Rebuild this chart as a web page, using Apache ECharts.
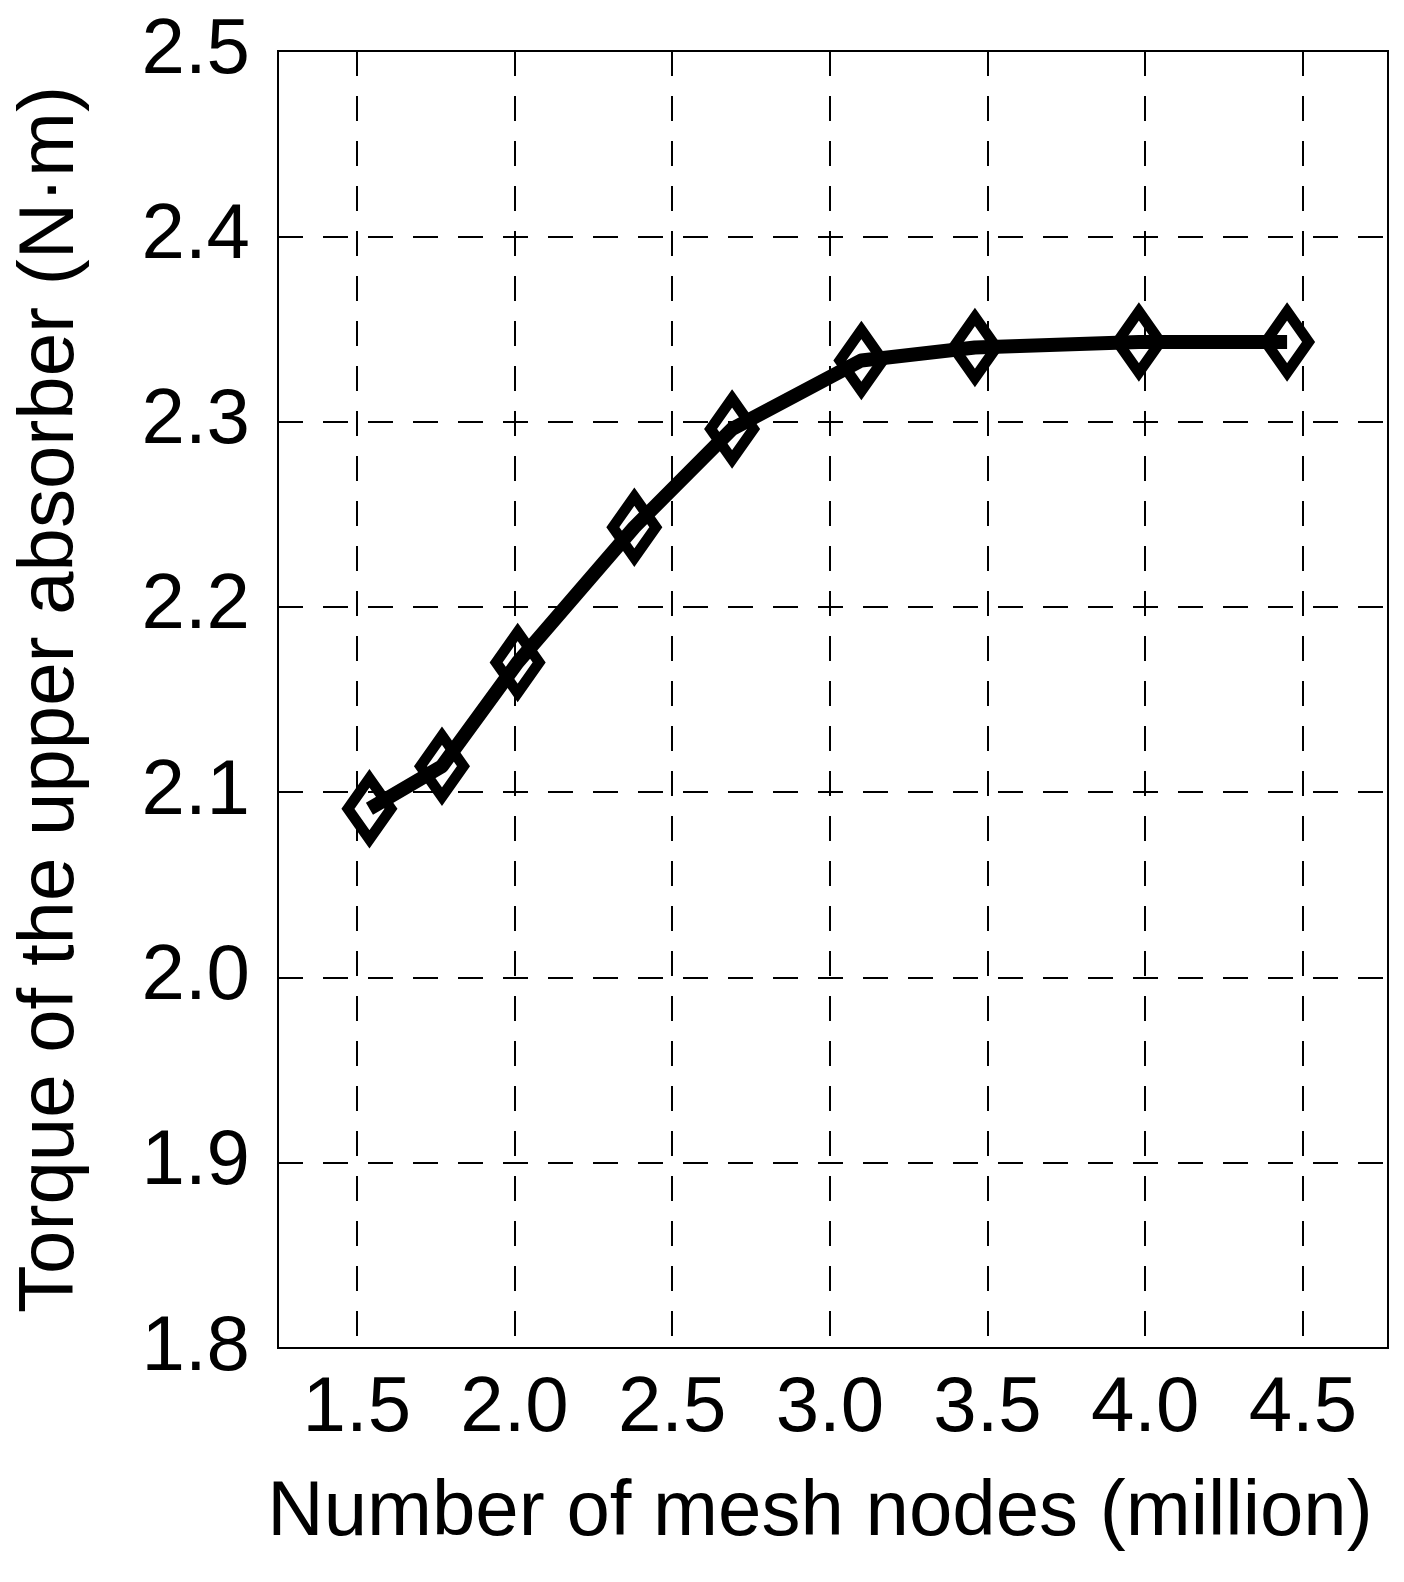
<!DOCTYPE html>
<html>
<head>
<meta charset="utf-8">
<script src="https://cdn.jsdelivr.net/npm/echarts@6/dist/echarts.min.js"></script>
<style>
  html, body { margin: 0; padding: 0; background: #fff; }
  #chart { width: 1404px; height: 1582px; }
</style>
</head>
<body>
<div id="chart"></div>
<script>
// Data
const meshNodes = [1.54, 1.77, 2.01, 2.38, 2.69, 3.10, 3.46, 3.98, 4.45];
const torque    = [2.091, 2.114, 2.170, 2.243, 2.296, 2.333, 2.340, 2.343, 2.343];
const xTicks = [1.5, 2.0, 2.5, 3.0, 3.5, 4.0, 4.5];
const xTitle = 'Number of mesh nodes (million)';
const yTitle = 'Torque of the upper absorber (N\u00b7m)';

const FONT = 'Liberation Sans, Arial, sans-serif';
const chart = echarts.init(document.getElementById('chart'), null, { renderer: 'canvas' });

const gridLine = { show: true, lineStyle: { color: '#000', width: 2, type: [25, 20] } };

chart.setOption({
  backgroundColor: '#fff',
  animation: false,
  grid: {
    left: 278, top: 51, right: 16, bottom: 234,
    show: true, borderColor: '#000', borderWidth: 2, backgroundColor: 'transparent'
  },
  xAxis: {
    type: 'value',
    min: 1.25, max: 4.77,
    name: xTitle,
    nameLocation: 'middle',
    nameGap: 126,
    nameTextStyle: { fontFamily: FONT, fontSize: 78, color: '#000', padding: [0, 26, 0, 0] },
    axisLine: { show: false },
    axisTick: { show: false, customValues: xTicks },
    axisLabel: {
      customValues: xTicks,
      fontFamily: FONT, fontSize: 78, color: '#000', margin: 22,
      formatter: v => v.toFixed(1)
    },
    splitLine: gridLine
  },
  yAxis: {
    type: 'value',
    min: 1.8, max: 2.5, interval: 0.1,
    name: yTitle,
    nameLocation: 'middle',
    nameRotate: 90,
    nameGap: 188,
    nameTextStyle: { fontFamily: FONT, fontSize: 78, color: '#000' },
    axisLine: { show: false },
    axisTick: { show: false },
    axisLabel: {
      fontFamily: FONT, fontSize: 78, color: '#000', margin: 28,
      showMinLabel: true, showMaxLabel: true,
      formatter: v => v.toFixed(1)
    },
    splitLine: gridLine
  },
  series: [{
    type: 'line',
    data: meshNodes.map((x, i) => [x, torque[i]]),
    symbol: 'diamond',
    symbolSize: [43, 61],
    showAllSymbol: true,
    lineStyle: { color: '#000', width: 14, join: 'round' },
    itemStyle: { color: 'rgba(0,0,0,0)', borderColor: '#000', borderWidth: 11 },
    emphasis: { disabled: true },
    z: 3
  }]
});
</script>
</body>
</html>
